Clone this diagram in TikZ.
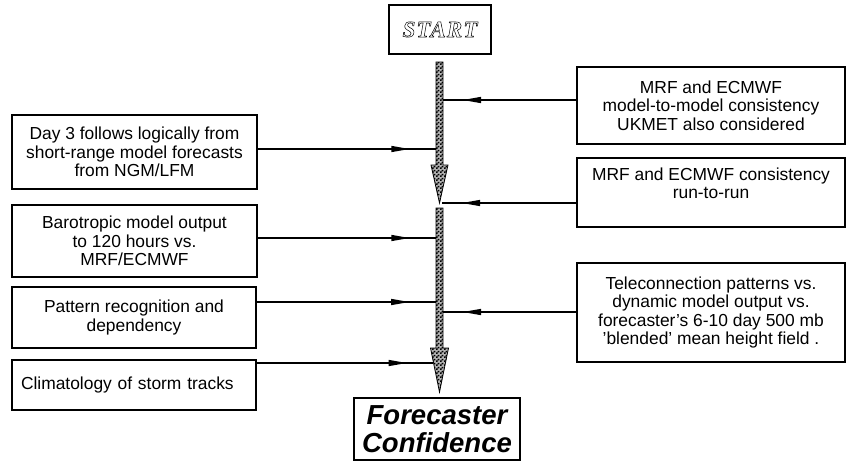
\documentclass[tikz,border=0pt]{standalone}
\usepackage{fontspec}
\setmainfont{Liberation Sans}
\newfontfamily\startfont[LetterSpace=5]{Liberation Serif}
\usepackage{tikz}
\usetikzlibrary{arrows.meta,calc,patterns,decorations.markings}

\pgfdeclarepatternformonly{finecheck}{\pgfqpoint{0pt}{0pt}}{\pgfqpoint{4pt}{4pt}}{\pgfqpoint{4pt}{4pt}}{%
  \pgfpathrectangle{\pgfqpoint{0pt}{0pt}}{\pgfqpoint{2pt}{2pt}}%
  \pgfpathrectangle{\pgfqpoint{2pt}{2pt}}{\pgfqpoint{2pt}{2pt}}%
  \pgfusepath{fill}}

\tikzset{
  inbox/.style={draw,line width=1.4pt,align=center,inner sep=2pt,
    font=\fontsize{17.4}{18.5}\selectfont},
  feed/.style={line width=1.6pt,postaction={decorate},
    decoration={markings,mark=at position 0.85 with {\fill (-18,-3.2) -- (0,0) -- (-18,3.2) -- cycle;}}},
  bigarrow/.style={draw,line width=0.8pt,preaction={fill=gray!60},pattern=finecheck}
}

\begin{document}
\begin{tikzpicture}[x=1pt,y=-1pt]
    \useasboundingbox (0,0) rectangle (846,461);
    % start and end
    \node (start) at (440,29.5) [inbox,minimum width=102,minimum height=49,
      font=\startfont\fontsize{23}{24}\selectfont\bfseries\itshape]
      {\special{pdf:literal direct 1 Tr 0.5 w}START\special{pdf:literal direct 0 Tr}};
    \node (conf) at (437,429) [inbox,minimum width=166,minimum height=62,
      font=\fontsize{27.5}{28}\selectfont\bfseries\itshape]{Forecaster\\Confidence};
    % left column
    \node (day3) at (134.5,152) [inbox,minimum width=245,minimum height=74]
      {Day 3 follows logically from\\short-range model forecasts\\from NGM/LFM};
    \node (baro) at (134.5,241) [inbox,minimum width=245,minimum height=72]
      {Barotropic model output\\to 120 hours vs.\\MRF/ECMWF};
    \node (patt) at (134,317.5) [inbox,minimum width=244,minimum height=61]
      {Pattern recognition and\\dependency};
    \node (clim) at (134,385) [inbox,align=left,inner xsep=9pt,text width=226,minimum height=50]
      {Climatology of storm tracks};
    % right column
    \node (mrf1) at (711,105.5) [inbox,minimum width=268,minimum height=77]
      {MRF and ECMWF\\model-to-model consistency\\UKMET also considered};
    \node (mrf2) at (711,192.5) [inbox,minimum width=268,minimum height=69]
      {MRF and ECMWF consistency\\run-to-run\\\mbox{}};
    \node (tele) at (711,312.5) [inbox,minimum width=268,minimum height=99]
      {Teleconnection patterns vs.\\dynamic model output vs.\\forecaster's 6-10 day 500 mb\\'blended' mean height field .};
    % the two thick arrows
    \path[bigarrow] (436,62) -- (436,165) -- (431,165) -- (439.5,203)
      -- (448,165) -- (443,165) -- (443,62) -- cycle;
    \path[bigarrow] (436,208) -- (436,348) -- (430.5,348) -- (439.5,392)
      -- (448.5,348) -- (443,348) -- (443,208) -- cycle;
    % joins on the arrows
    \coordinate (jd) at (436,149);
    \coordinate (jb) at (436,238);
    \coordinate (jp) at (436,302);
    \coordinate (jc) at (433,363);
    \coordinate (jm) at (443,100);
    \coordinate (jr) at (442,203);
    \coordinate (jt) at (443,312);
    % connectors
    \draw[feed] (day3.east |- jd) -- (jd);
    \draw[feed] (baro.east |- jb) -- (jb);
    \draw[feed] (patt.east |- jp) -- (jp);
    \draw[feed] (clim.east |- jc) -- (jc);
    \draw[feed] (mrf1.west |- jm) -- (jm);
    \draw[feed] (mrf2.west |- jr) -- (jr);
    \draw[feed] (tele.west |- jt) -- (jt);
\end{tikzpicture}
\end{document}
